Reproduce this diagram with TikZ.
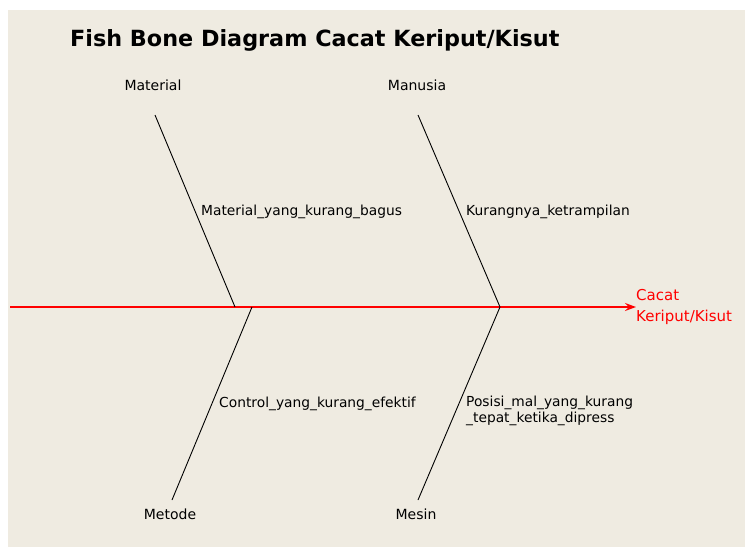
\documentclass[tikz,border=0pt]{standalone}
\usepackage{fontspec}
\setmainfont{DejaVu Sans}
\usetikzlibrary{positioning,arrows.meta}

\definecolor{paper}{RGB}{239,235,225}

\tikzset{
  bone/.style={draw=black, line width=0.9pt},
  cat/.style={font=\fontsize{14}{16}\selectfont, inner sep=0pt},
  cause/.style={font=\fontsize{13.8}{16}\selectfont, inner sep=0pt, anchor=west, align=left},
}

\begin{document}
\begin{tikzpicture}[x=1pt,y=-1pt]
    \useasboundingbox (0,0) rectangle (745,547);
    \fill[paper] (8,10) rectangle (745,547);

    \node[anchor=west, inner sep=0pt, font=\bfseries\fontsize{22.3}{26}\selectfont] (title) at (70,40) {Fish Bone Diagram Cacat Keriput/Kisut};

    % spine
    \coordinate (tail) at (10,307);
    \node[cause, text=red, font=\fontsize{15}{21}\selectfont] (effect) at (636,307) {Cacat\\Keriput/Kisut};
    \draw[red, line width=1.1pt, -{Stealth[length=11pt, width=8pt, inset=4pt]}] (tail) -- (effect.west);

    % bones
    \coordinate (matTop) at (155,115);
    \coordinate (matJ) at (235,307);
    \coordinate (manTop) at (418,115);
    \coordinate (manJ) at (500,307);
    \coordinate (metJ) at (252,307);
    \coordinate (metBot) at (172,500);
    \coordinate (mesJ) at (500,307);
    \coordinate (mesBot) at (418,500);

    \draw[bone] (matTop) -- (matJ);
    \draw[bone] (manTop) -- (manJ);
    \draw[bone] (metJ) -- (metBot);
    \draw[bone] (mesJ) -- (mesBot);

    % categories
    \node[cat] (material) at (153,85) {Material};
    \node[cat] (manusia) at (417,85) {Manusia};
    \node[cat] (metode) at (170,514) {Metode};
    \node[cat] (mesin) at (416,514) {Mesin};

    % causes
    \node[cause] (c1) at (201,212) {Material\_yang\_kurang\_bagus};
    \node[cause] (c2) at (466,212) {Kurangnya\_ketrampilan};
    \node[cause] (c3) at (219,404) {Control\_yang\_kurang\_efektif};
    \node[cause] (c4) at (466,411) {Posisi\_mal\_yang\_kurang\\\_tepat\_ketika\_dipress};
\end{tikzpicture}
\end{document}
